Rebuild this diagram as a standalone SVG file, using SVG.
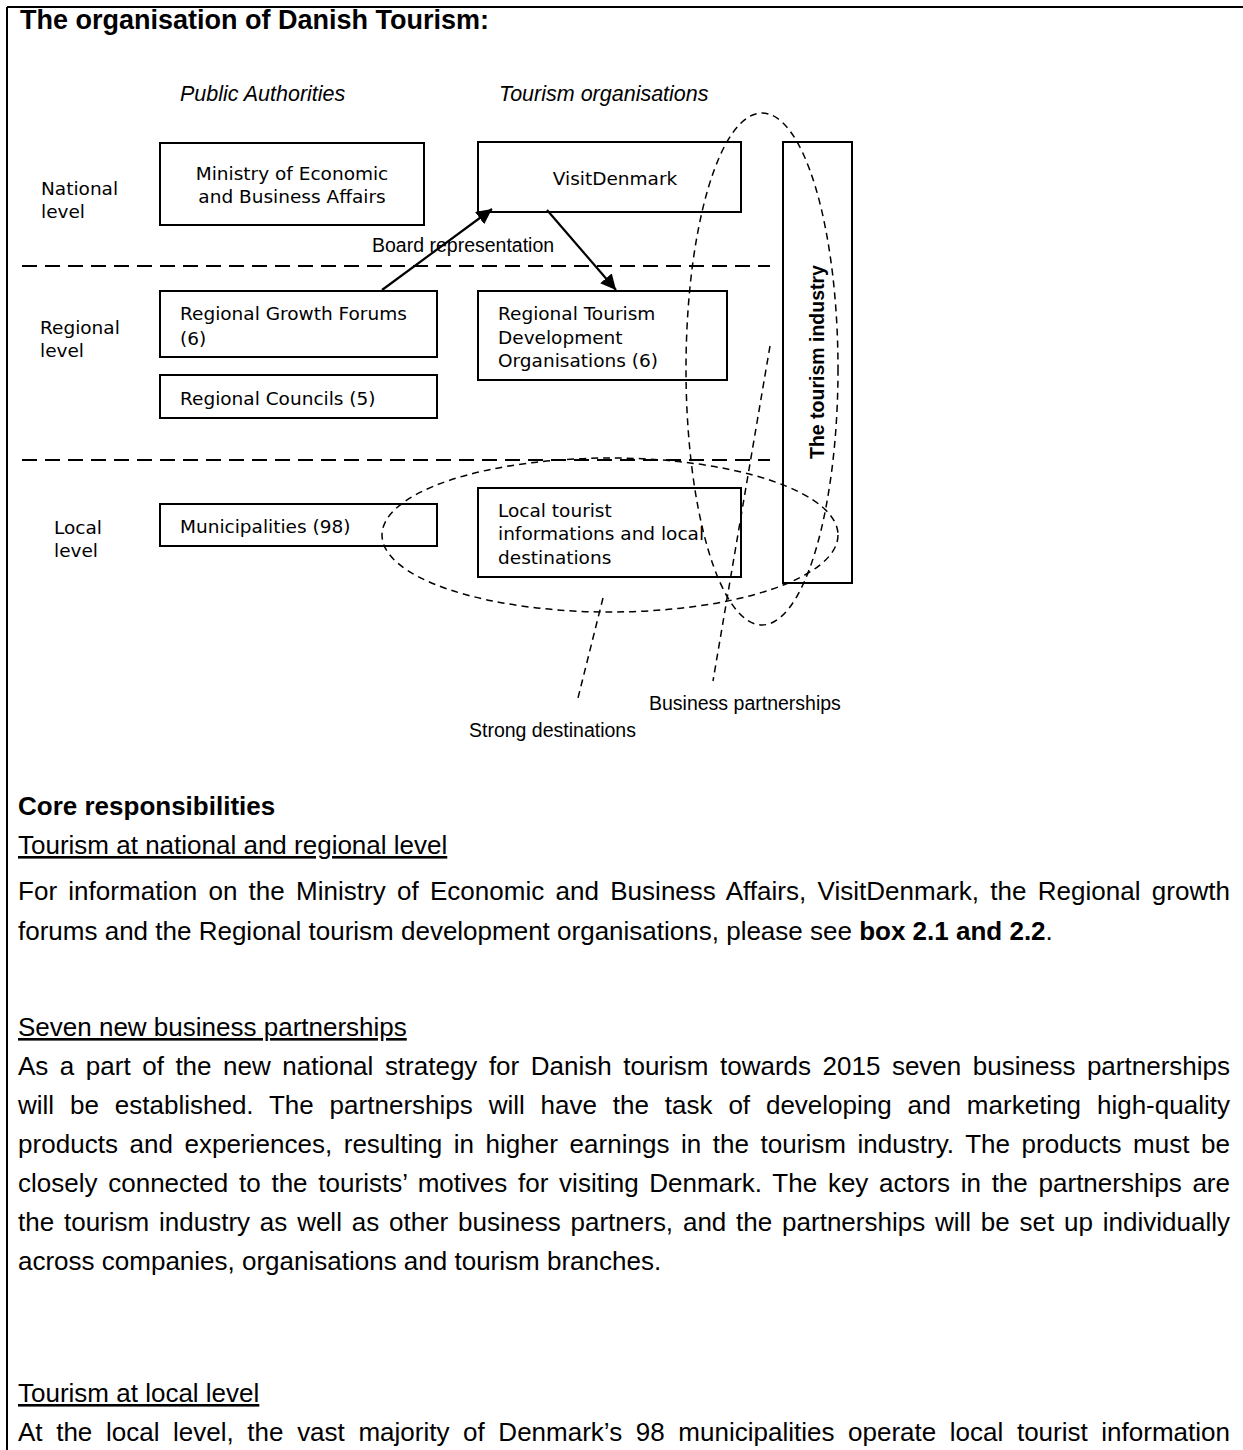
<svg xmlns="http://www.w3.org/2000/svg" width="1243" height="1450" viewBox="0 0 1243 1450">
<defs>
<style>
.box{fill:#fff;stroke:#000;stroke-width:2}
.bt{font-family:"DejaVu Sans",Verdana,sans-serif;font-size:18.5px;fill:#000}
.ar{font-family:"Liberation Sans",Arial,sans-serif;fill:#000}
.lvl{stroke:#000;stroke-width:1.8;stroke-dasharray:15 8;fill:none}
.ell{stroke:#000;stroke-width:1.5;stroke-dasharray:7 5;fill:none}
.arrow{stroke:#000;stroke-width:2.2;fill:none}
.body{font-family:"Liberation Sans",Arial,sans-serif;font-size:26px;fill:#000}
</style>
<marker id="ah" viewBox="0 0 10 10" refX="10" refY="5" markerWidth="7" markerHeight="7" markerUnits="strokeWidth" orient="auto">
<path d="M0,0 L10,5 L0,10 z" fill="#000"/>
</marker>
</defs>
<rect width="1243" height="1450" fill="#fff"/>
<g id="frame">
<line x1="7" y1="7" x2="1243" y2="7" stroke="#000" stroke-width="2"/>
<line x1="7" y1="7" x2="7" y2="1450" stroke="#000" stroke-width="2"/>
</g>
<text class="ar" x="20" y="29" font-size="27" font-weight="bold">The organisation of Danish Tourism:</text>
<text class="ar" x="180" y="101" font-size="21.5" font-style="italic">Public Authorities</text>
<text class="ar" x="499" y="101" font-size="21.5" font-style="italic">Tourism organisations</text>
<g id="levels">
<text class="bt" x="41" y="195">National</text>
<text class="bt" x="41" y="218">level</text>
<text class="bt" x="40" y="334">Regional</text>
<text class="bt" x="40" y="357">level</text>
<text class="bt" x="54" y="534">Local</text>
<text class="bt" x="54" y="557">level</text>
<line class="lvl" x1="22" y1="266" x2="770" y2="266"/>
<line class="lvl" x1="22" y1="460" x2="770" y2="460"/>
</g>
<g id="ministry">
<rect class="box" x="160" y="143" width="264" height="82"/>
<text class="bt" x="292" y="180" text-anchor="middle">Ministry of Economic</text>
<text class="bt" x="292" y="203" text-anchor="middle">and Business Affairs</text>
</g>
<g id="visitdenmark">
<rect class="box" x="478" y="142" width="263" height="70"/>
<text class="bt" x="615" y="185" text-anchor="middle">VisitDenmark</text>
</g>
<g id="growth-forums">
<rect class="box" x="160" y="291" width="277" height="66"/>
<text class="bt" x="180" y="320">Regional Growth Forums</text>
<text class="bt" x="180" y="345">(6)</text>
</g>
<g id="regional-councils">
<rect class="box" x="160" y="375" width="277" height="43"/>
<text class="bt" x="180" y="405">Regional Councils (5)</text>
</g>
<g id="rtdo">
<rect class="box" x="478" y="291" width="249" height="89"/>
<text class="bt" x="498" y="320">Regional Tourism</text>
<text class="bt" x="498" y="344">Development</text>
<text class="bt" x="498" y="367">Organisations (6)</text>
</g>
<g id="municipalities">
<rect class="box" x="160" y="504" width="277" height="42"/>
<text class="bt" x="180" y="533">Municipalities (98)</text>
</g>
<g id="local-tourist">
<rect class="box" x="478" y="488" width="263" height="89"/>
<text class="bt" x="498" y="517">Local tourist</text>
<text class="bt" x="498" y="540">informations and local</text>
<text class="bt" x="498" y="564">destinations</text>
</g>
<g id="tourism-industry">
<rect class="box" x="783" y="142" width="69" height="441"/>
<text class="ar" transform="translate(824,362) rotate(-90)" text-anchor="middle" font-size="19.5" font-weight="bold">The tourism industry</text>
</g>
<g id="connectors">
<line class="arrow" x1="382" y1="290" x2="492" y2="209" marker-end="url(#ah)"/>
<line class="arrow" x1="547" y1="210" x2="616" y2="290" marker-end="url(#ah)"/>
<ellipse class="ell" cx="762" cy="369" rx="76" ry="256"/>
<ellipse class="ell" cx="610" cy="535" rx="228" ry="77"/>
<line class="ell" x1="603" y1="598" x2="577" y2="702"/>
<line class="ell" x1="770" y1="346" x2="713" y2="681"/>
</g>
<text class="ar" x="372" y="252" font-size="19.5">Board representation</text>
<text class="ar" x="649" y="710" font-size="19.5">Business partnerships</text>
<text class="ar" x="469" y="737" font-size="19.5">Strong destinations</text>
<g id="body">
<text class="body" x="18" y="815" font-weight="bold">Core responsibilities</text>
<text class="body" x="18" y="854" text-decoration="underline">Tourism at national and regional level</text>
<text class="body" x="18" y="900" word-spacing="4" textLength="1212" lengthAdjust="spacing">For information on the Ministry of Economic and Business Affairs, VisitDenmark, the Regional growth</text>
<text class="body" x="18" y="940">forums and the Regional tourism development organisations, please see <tspan font-weight="bold">box 2.1 and 2.2</tspan>.</text>
<text class="body" x="18" y="1036" text-decoration="underline">Seven new business partnerships</text>
<text class="body" x="18" y="1075" word-spacing="4.3" textLength="1212" lengthAdjust="spacing">As a part of the new national strategy for Danish tourism towards 2015 seven business partnerships</text>
<text class="body" x="18" y="1114" word-spacing="8.6" textLength="1212" lengthAdjust="spacing">will be established. The partnerships will have the task of developing and marketing high-quality</text>
<text class="body" x="18" y="1153" word-spacing="4.3" textLength="1212" lengthAdjust="spacing">products and experiences, resulting in higher earnings in the tourism industry. The products must be</text>
<text class="body" x="18" y="1192" word-spacing="3.5" textLength="1212" lengthAdjust="spacing">closely connected to the tourists’ motives for visiting Denmark. The key actors in the partnerships are</text>
<text class="body" x="18" y="1231" word-spacing="2.6" textLength="1212" lengthAdjust="spacing">the tourism industry as well as other business partners, and the partnerships will be set up individually</text>
<text class="body" x="18" y="1270">across companies, organisations and tourism branches.</text>
<text class="body" x="18" y="1402" text-decoration="underline">Tourism at local level</text>
<text class="body" x="18" y="1441" word-spacing="6.4" textLength="1212" lengthAdjust="spacing">At the local level, the vast majority of Denmark’s 98 municipalities operate local tourist information</text>
</g>
</svg>
